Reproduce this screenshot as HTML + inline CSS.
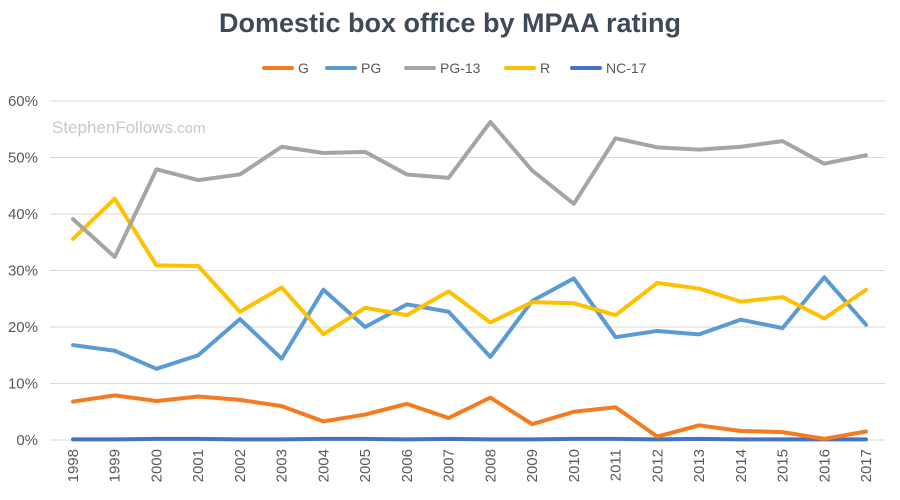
<!DOCTYPE html>
<html><head><meta charset="utf-8"><style>
body{margin:0;background:#fff;font-family:"Liberation Sans",sans-serif}
svg{display:block}
</style></head><body>
<svg id="chart" width="900" height="500">
<text x="450" y="32" text-anchor="middle" font-size="27" font-weight="bold" fill="#3d4a59">Domestic box office by MPAA rating</text>
<text x="52" y="133" font-size="17" fill="#c8c8c8">StephenFollows<tspan font-size="15">.com</tspan></text>
<g id="grid"></g><g id="lines"></g><g id="legend"></g>
</svg>
<script>
const years=["1998","1999","2000","2001","2002","2003","2004","2005","2006","2007","2008","2009","2010","2011","2012","2013","2014","2015","2016","2017"];
const seriesNames=["G","PG","PG-13","R","NC-17"];
const gVals=[6.8,7.9,6.9,7.7,7.1,6.0,3.3,4.5,6.4,3.9,7.5,2.8,5.0,5.8,0.6,2.6,1.6,1.4,0.2,1.5];
const pgVals=[16.8,15.8,12.6,15.0,21.4,14.4,26.6,20.0,24.0,22.7,14.7,24.6,28.6,18.2,19.3,18.7,21.3,19.8,28.8,20.4];
const pg13Vals=[39.1,32.4,47.9,46.0,47.0,51.9,50.8,51.0,47.0,46.4,56.3,47.7,41.8,53.4,51.8,51.4,51.9,52.9,48.9,50.4];
const rVals=[35.6,42.7,30.9,30.8,22.7,27.0,18.7,23.4,22.1,26.3,20.8,24.4,24.2,22.1,27.8,26.8,24.5,25.3,21.5,26.6];
const nc17Vals=[0.1,0.1,0.2,0.2,0.1,0.1,0.2,0.2,0.1,0.2,0.1,0.1,0.2,0.2,0.1,0.2,0.1,0.1,0.1,0.1];
const yTicks=[0,10,20,30,40,50,60];
const colors=["#f47b20","#5b9bd5","#a5a5a5","#ffc000","#4472c4"];
const NS="http://www.w3.org/2000/svg";
const x=i=>73+i*(866-73)/(years.length-1);
const y=v=>440-v*(440-101)/60;
function mk(t,a,p){const e=document.createElementNS(NS,t);for(const k in a)e.setAttribute(k,a[k]);p.appendChild(e);return e;}
const grid=document.getElementById('grid');
yTicks.forEach(t=>{
 const l=mk('line',{x1:50,x2:885,y1:y(t),y2:y(t),stroke:'#d9d9d9','stroke-width':1},grid);
 
 
 const tx=mk('text',{x:38,y:y(t)+5,'text-anchor':'end','font-size':15,fill:'#595959'},grid);
 tx.textContent=t+'%';
 
 
});
years.forEach((yr,i)=>{
 const tx=mk('text',{transform:`translate(${x(i)+5},449) rotate(-90)`,'text-anchor':'end','font-size':15,fill:'#595959'},grid);
 tx.textContent=yr;
 
 
});
const data=[gVals,pgVals,pg13Vals,rVals,nc17Vals];
const lines=document.getElementById('lines');
[4,0,1,3,2].forEach(s=>{
 const p=mk('polyline',{points:data[s].map((v,i)=>x(i)+','+y(v)).join(' '),fill:'none',stroke:colors[s],'stroke-width':4,'stroke-linejoin':'round','stroke-linecap':'round'},lines);
 
 
});
const legend=document.getElementById('legend');
const lx=[298,361,440,540,606];
seriesNames.forEach((n,s)=>{
 const g=mk('g',{},legend);
 
 
 mk('line',{x1:lx[s]-34,x2:lx[s]-6,y1:68,y2:68,stroke:colors[s],'stroke-width':4,'stroke-linecap':'round'},g);
 const t=mk('text',{x:lx[s],y:73,'font-size':14,fill:'#595959'},g);
 t.textContent=n;
});
</script>
</body></html>
